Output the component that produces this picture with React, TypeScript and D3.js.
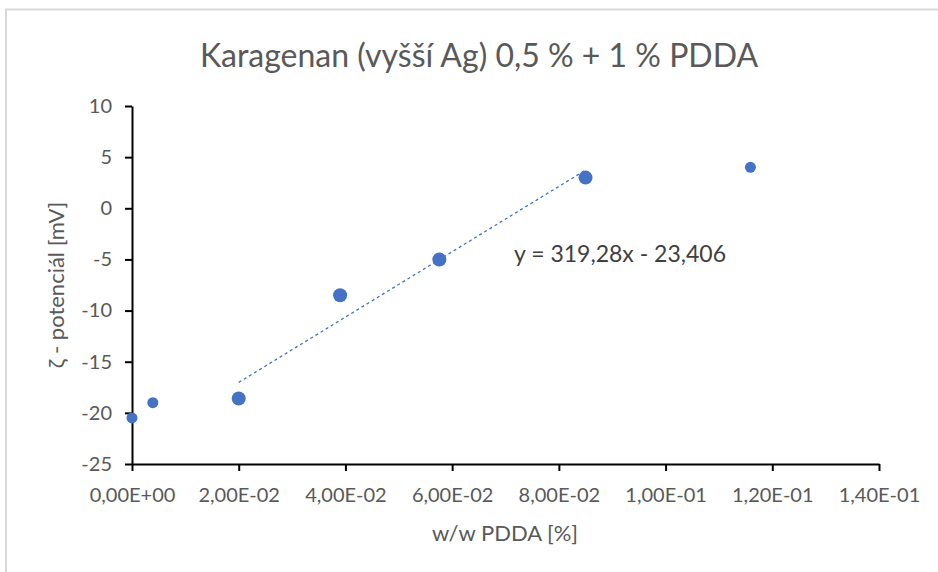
import React, { useEffect, useRef } from 'react'
import * as d3 from 'd3'

// data
const fitX = [0.02, 0.039, 0.0576, 0.085]
const fitY = [-18.6, -8.5, -5, 3]
const otherX = [0, 0.0039, 0.1159]
const otherY = [-20.5, -19, 4]
const slope = 319.28
const intercept = -23.406
const xTicks = [0, 0.02, 0.04, 0.06, 0.08, 0.1, 0.12, 0.14]
const yTicks = [-25, -20, -15, -10, -5, 0, 5, 10]

const W = 938
const H = 572
const font = 'Lato, "Open Sans", sans-serif'
const blue = '#4472C4'

const fmtX = (v: number) => {
  const s = v.toExponential(2) // 2.00e-2
  const [m, e] = s.split('e')
  const n = parseInt(e, 10)
  const ex = (n < 0 ? '-' : '+') + String(Math.abs(n)).padStart(2, '0')
  return m.replace('.', ',') + 'E' + ex
}

const App = () => {
  const svgRef = useRef<SVGSVGElement>(null)

  useEffect(() => {
    const svg = d3.select(svgRef.current)
    svg.selectAll('*').remove()

    const x = d3.scaleLinear().domain([0, 0.14]).range([132, 879])
    const y = d3.scaleLinear().domain([-25, 10]).range([464, 106])

    // chart frame (only top and left edges visible)
    svg.append('line').attr('x1', 5).attr('x2', W).attr('y1', 9.5).attr('y2', 9.5)
      .attr('stroke', '#d9d9d9').attr('stroke-width', 2)
    svg.append('line').attr('x1', 6).attr('x2', 6).attr('y1', 9).attr('y2', H)
      .attr('stroke', '#d9d9d9').attr('stroke-width', 2)

    svg.append('text')
      .attr('x', 479).attr('y', 67)
      .attr('text-anchor', 'middle')
      .attr('font-family', font).attr('font-size', 32)
      .attr('fill', '#595959')
      .text('Karagenan (vyšší Ag) 0,5 % + 1 % PDDA')

    // axes
    const xAxis = d3.axisBottom(x).tickValues(xTicks).tickSize(7).tickSizeOuter(0).tickFormat((d) => fmtX(+d))
    const gx = svg.append('g').attr('transform', `translate(0,${y(-25)})`).call(xAxis)
    gx.select('.domain').attr('stroke', '#000').attr('stroke-width', 2)
    gx.selectAll('.tick line').attr('stroke', '#000').attr('stroke-width', 2)
    gx.selectAll('.tick text').attr('font-family', font).attr('font-size', 20)
      .attr('fill', '#595959').attr('y', 38).attr('dy', 0)

    const yAxis = d3.axisLeft(y).tickValues(yTicks).tickSize(7).tickSizeOuter(0).tickFormat((d) => String(d))
    const gy = svg.append('g').attr('transform', `translate(${x(0)},0)`).call(yAxis)
    gy.select('.domain').attr('stroke', '#000').attr('stroke-width', 2)
    gy.selectAll('.tick line').attr('stroke', '#000').attr('stroke-width', 2)
    gy.selectAll('.tick text').attr('font-family', font).attr('font-size', 20)
      .attr('fill', '#595959').attr('x', -20)

    svg.append('text')
      .attr('x', 505).attr('y', 541)
      .attr('text-anchor', 'middle')
      .attr('font-family', font).attr('font-size', 22)
      .attr('fill', '#595959')
      .text('w/w PDDA [%]')

    svg.append('text')
      .attr('transform', `translate(64,285) rotate(-90)`)
      .attr('text-anchor', 'middle')
      .attr('font-family', font).attr('font-size', 22)
      .attr('fill', '#595959')
      .text('ζ - potenciál [mV]')

    // trendline over the fitted series
    const [x0, x1] = d3.extent(fitX) as [number, number]
    const line = d3.line<number>().x((d) => x(d)).y((d) => y(slope * d + intercept))
    svg.append('path')
      .datum([x0, x1])
      .attr('d', line)
      .attr('fill', 'none')
      .attr('stroke', blue)
      .attr('stroke-width', 1.3)
      .attr('stroke-dasharray', '3,3')

    svg.append('text')
      .attr('x', 514).attr('y', 262)
      .attr('font-family', font).attr('font-size', 23)
      .attr('fill', '#404040')
      .text('y = 319,28x - 23,406')

    svg.append('g').selectAll('circle')
      .data(otherX.map((d, i) => [d, otherY[i]]))
      .join('circle')
      .attr('cx', (d) => x(d[0])).attr('cy', (d) => y(d[1]))
      .attr('r', 5.5).attr('fill', blue)

    svg.append('g').selectAll('circle')
      .data(fitX.map((d, i) => [d, fitY[i]]))
      .join('circle')
      .attr('cx', (d) => x(d[0])).attr('cy', (d) => y(d[1]))
      .attr('r', 7).attr('fill', blue)
  }, [])

  return (
    <div style={{ position: 'absolute', left: 0, top: 0 }}>
      <svg ref={svgRef} width={W} height={H} style={{ display: 'block', background: '#fff' }}></svg>
    </div>
  )
}

export default App
